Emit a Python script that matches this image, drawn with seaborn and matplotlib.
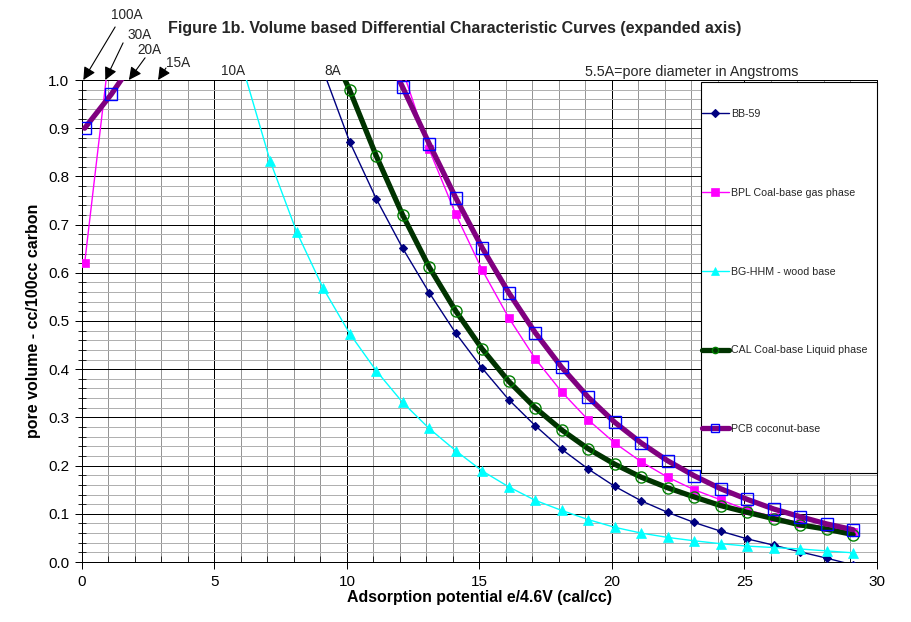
import matplotlib
matplotlib.use('Agg')
import matplotlib.pyplot as plt
import seaborn as sns
from matplotlib.patches import Rectangle
from matplotlib.ticker import MultipleLocator, FormatStrFormatter

sns.set_theme(style='white')
plt.rcParams['font.family'] = ['Liberation Sans', 'DejaVu Sans']

# ---- data ----
bb_x = [9.1, 10.1, 11.1, 12.1, 13.1, 14.1, 15.1, 16.1, 17.1, 18.1, 19.1, 20.1,
        21.1, 22.1, 23.1, 24.1, 25.1, 26.1, 27.1, 28.1, 29.1]
bb_y = [1.02, 0.872, 0.754, 0.651, 0.559, 0.475, 0.402, 0.337, 0.283, 0.234, 0.193,
        0.157, 0.127, 0.103, 0.082, 0.064, 0.048, 0.035, 0.021, 0.008, -0.006]

bpl_x = [0.1, 1.1, 12.1, 13.1, 14.1, 15.1, 16.1, 17.1, 18.1, 19.1, 20.1, 21.1,
         22.1, 23.1, 24.1, 25.1, 26.1, 27.1, 28.1, 29.1]
bpl_y = [0.62, 1.09, 1.02, 0.856, 0.722, 0.606, 0.507, 0.422, 0.353, 0.295, 0.247,
         0.208, 0.176, 0.150, 0.129, 0.108, 0.094, 0.081, 0.072, 0.063]

bg_x = [6.1, 7.1, 8.1, 9.1, 10.1, 11.1, 12.1, 13.1, 14.1, 15.1, 16.1, 17.1, 18.1,
        19.1, 20.1, 21.1, 22.1, 23.1, 24.1, 25.1, 26.1, 27.1, 28.1, 29.1]
bg_y = [1.02, 0.832, 0.685, 0.568, 0.474, 0.397, 0.331, 0.277, 0.231, 0.189, 0.156,
        0.128, 0.107, 0.088, 0.072, 0.060, 0.051, 0.044, 0.038, 0.033, 0.030, 0.027,
        0.023, 0.019]

cal_x = [9.1, 10.1, 11.1, 12.1, 13.1, 14.1, 15.1, 16.1, 17.1, 18.1, 19.1, 20.1,
         21.1, 22.1, 23.1, 24.1, 25.1, 26.1, 27.1, 28.1, 29.1]
cal_y = [1.10, 0.979, 0.843, 0.720, 0.612, 0.521, 0.442, 0.375, 0.320, 0.274, 0.235,
         0.203, 0.176, 0.154, 0.135, 0.117, 0.103, 0.090, 0.077, 0.068, 0.057]

pcb_x = [0.1, 1.1, 2.1, 11.1, 12.1, 13.1, 14.1, 15.1, 16.1, 17.1, 18.1, 19.1, 20.1,
         21.1, 22.1, 23.1, 24.1, 25.1, 26.1, 27.1, 28.1, 29.1]
pcb_y = [0.90, 0.97, 1.05, 1.10, 0.985, 0.868, 0.756, 0.652, 0.559, 0.476, 0.404,
         0.342, 0.290, 0.247, 0.210, 0.179, 0.152, 0.130, 0.110, 0.094, 0.079, 0.067]

series_names = ['BB-59', 'BPL Coal-base gas phase', 'BG-HHM - wood base',
                'CAL Coal-base Liquid phase', 'PCB coconut-base']

pore_labels = ['100A', '30A', '20A', '15A', '10A', '8A']

# ---- figure ----
fig = plt.figure(figsize=(9.12, 6.22), dpi=100)
fig.patch.set_facecolor('white')
ax = fig.add_axes([82 / 912, 60 / 622, 795 / 912, 482 / 622])
ax.set_facecolor('white')

styles = [
    dict(x=bb_x, y=bb_y, color='#000080', lw=1.0, marker='D', markersize=3.8,
         markerfacecolor='#000080', markeredgecolor='#000080', markeredgewidth=0.8, zorder=3),
    dict(x=bpl_x, y=bpl_y, color='#FF00FF', lw=1.0, marker='s', markersize=5.8,
         markerfacecolor='#FF00FF', markeredgecolor='#FF00FF', markeredgewidth=0.5, zorder=4),
    dict(x=bg_x, y=bg_y, color='#00FFFF', lw=1.0, marker='^', markersize=6.5,
         markerfacecolor='#00FFFF', markeredgecolor='#00FFFF', markeredgewidth=0.5, zorder=5),
    dict(x=cal_x, y=cal_y, color='#003300', lw=3.8, marker='o', markersize=8.0,
         markerfacecolor='none', markeredgecolor='#008000', markeredgewidth=1.0, zorder=6),
    dict(x=pcb_x, y=pcb_y, color='#800080', lw=3.8, marker='s', markersize=8.6,
         markerfacecolor='none', markeredgecolor='#0000FF', markeredgewidth=1.0, zorder=7),
]
for name, st in zip(series_names, styles):
    st = dict(st)
    xs = st.pop('x'); ys = st.pop('y')
    sns.lineplot(x=xs, y=ys, ax=ax, sort=False, label=name, legend=False,
                 estimator=None, **st)

ax.set_xlim(0, 30)
ax.set_ylim(0, 1.0)
ax.xaxis.set_major_locator(MultipleLocator(5))
ax.xaxis.set_minor_locator(MultipleLocator(1))
ax.yaxis.set_major_locator(MultipleLocator(0.1))
ax.yaxis.set_minor_locator(MultipleLocator(0.02))
ax.yaxis.set_major_formatter(FormatStrFormatter('%.1f'))

ax.set_axisbelow(True)
ax.xaxis.grid(True, which='minor', color='#959595', lw=0.72)
ax.yaxis.grid(True, which='minor', color='#b0b0b0', lw=0.72)
ax.grid(which='major', color='black', lw=0.72)

for sp in ax.spines.values():
    sp.set_color('black')
    sp.set_linewidth(0.72)

ax.tick_params(axis='both', which='major', labelsize=11, colors='black', direction='out',
               length=5, width=0.72, pad=4, left=True, bottom=True)
ax.tick_params(axis='y', which='minor', direction='inout', length=6, width=0.72, left=True)
ax.tick_params(axis='x', which='minor', direction='in', length=4, width=0.72, bottom=True)

ax.set_xlabel('Adsorption potential e/4.6V (cal/cc)', fontsize=11.4, fontweight='bold',
              color='black', labelpad=1)
ax.set_ylabel('pore volume - cc/100cc carbon', fontsize=11.5, fontweight='bold',
              color='black', labelpad=5)

fig.text(455 / 912, 1 - 28 / 622,
         'Figure 1b. Volume based Differential Characteristic Curves (expanded axis)',
         ha='center', va='center', fontsize=11.5, fontweight='bold')

ax.text(18.98, 1.017, '5.5A=pore diameter in Angstroms', fontsize=10.3,
        ha='left', va='center', clip_on=False)

# pore-size arrows
arrow_tips = [(0.05, 1.0), (0.88, 1.0), (1.77, 1.0), (2.87, 1.0)]
arrow_tails = [(1.25, 1.11), (1.55, 1.077), (2.38, 1.046), (3.17, 1.025)]
label_pos = [(1.69, 1.135), (2.19, 1.093), (2.54, 1.062), (3.63, 1.036),
             (5.69, 1.019), (9.48, 1.019)]
for tip, tail in zip(arrow_tips, arrow_tails):
    ax.annotate('', xy=tip, xytext=tail, annotation_clip=False,
                arrowprops=dict(arrowstyle='-|>', color='black', lw=0.8,
                                mutation_scale=19, shrinkA=0, shrinkB=0))
for lab, pos in zip(pore_labels, label_pos):
    ax.text(pos[0], pos[1], lab, fontsize=9.8, ha='center', va='center', clip_on=False)

# legend box (drawn separately so the entries can sit flush left)
box = Rectangle((619 / 795, 89 / 482), 176 / 795, 391 / 482, transform=ax.transAxes,
                facecolor='white', edgecolor='black', lw=0.8, zorder=9, clip_on=False)
ax.add_patch(box)
leg = ax.legend(loc='upper left', bbox_to_anchor=(620 / 795, (562 - 109) / 482),
                borderaxespad=0, borderpad=0, fontsize=7.7, frameon=False,
                labelspacing=6.43, handlelength=2.5, handletextpad=0.2)
leg.set_zorder(10)
for h, ms in zip(leg.legend_handles, [4.0, 5.5, 6.0, 4.5, 5.5]):
    h.set_markersize(ms)

fig.savefig('out.png', dpi=100, facecolor='white')
